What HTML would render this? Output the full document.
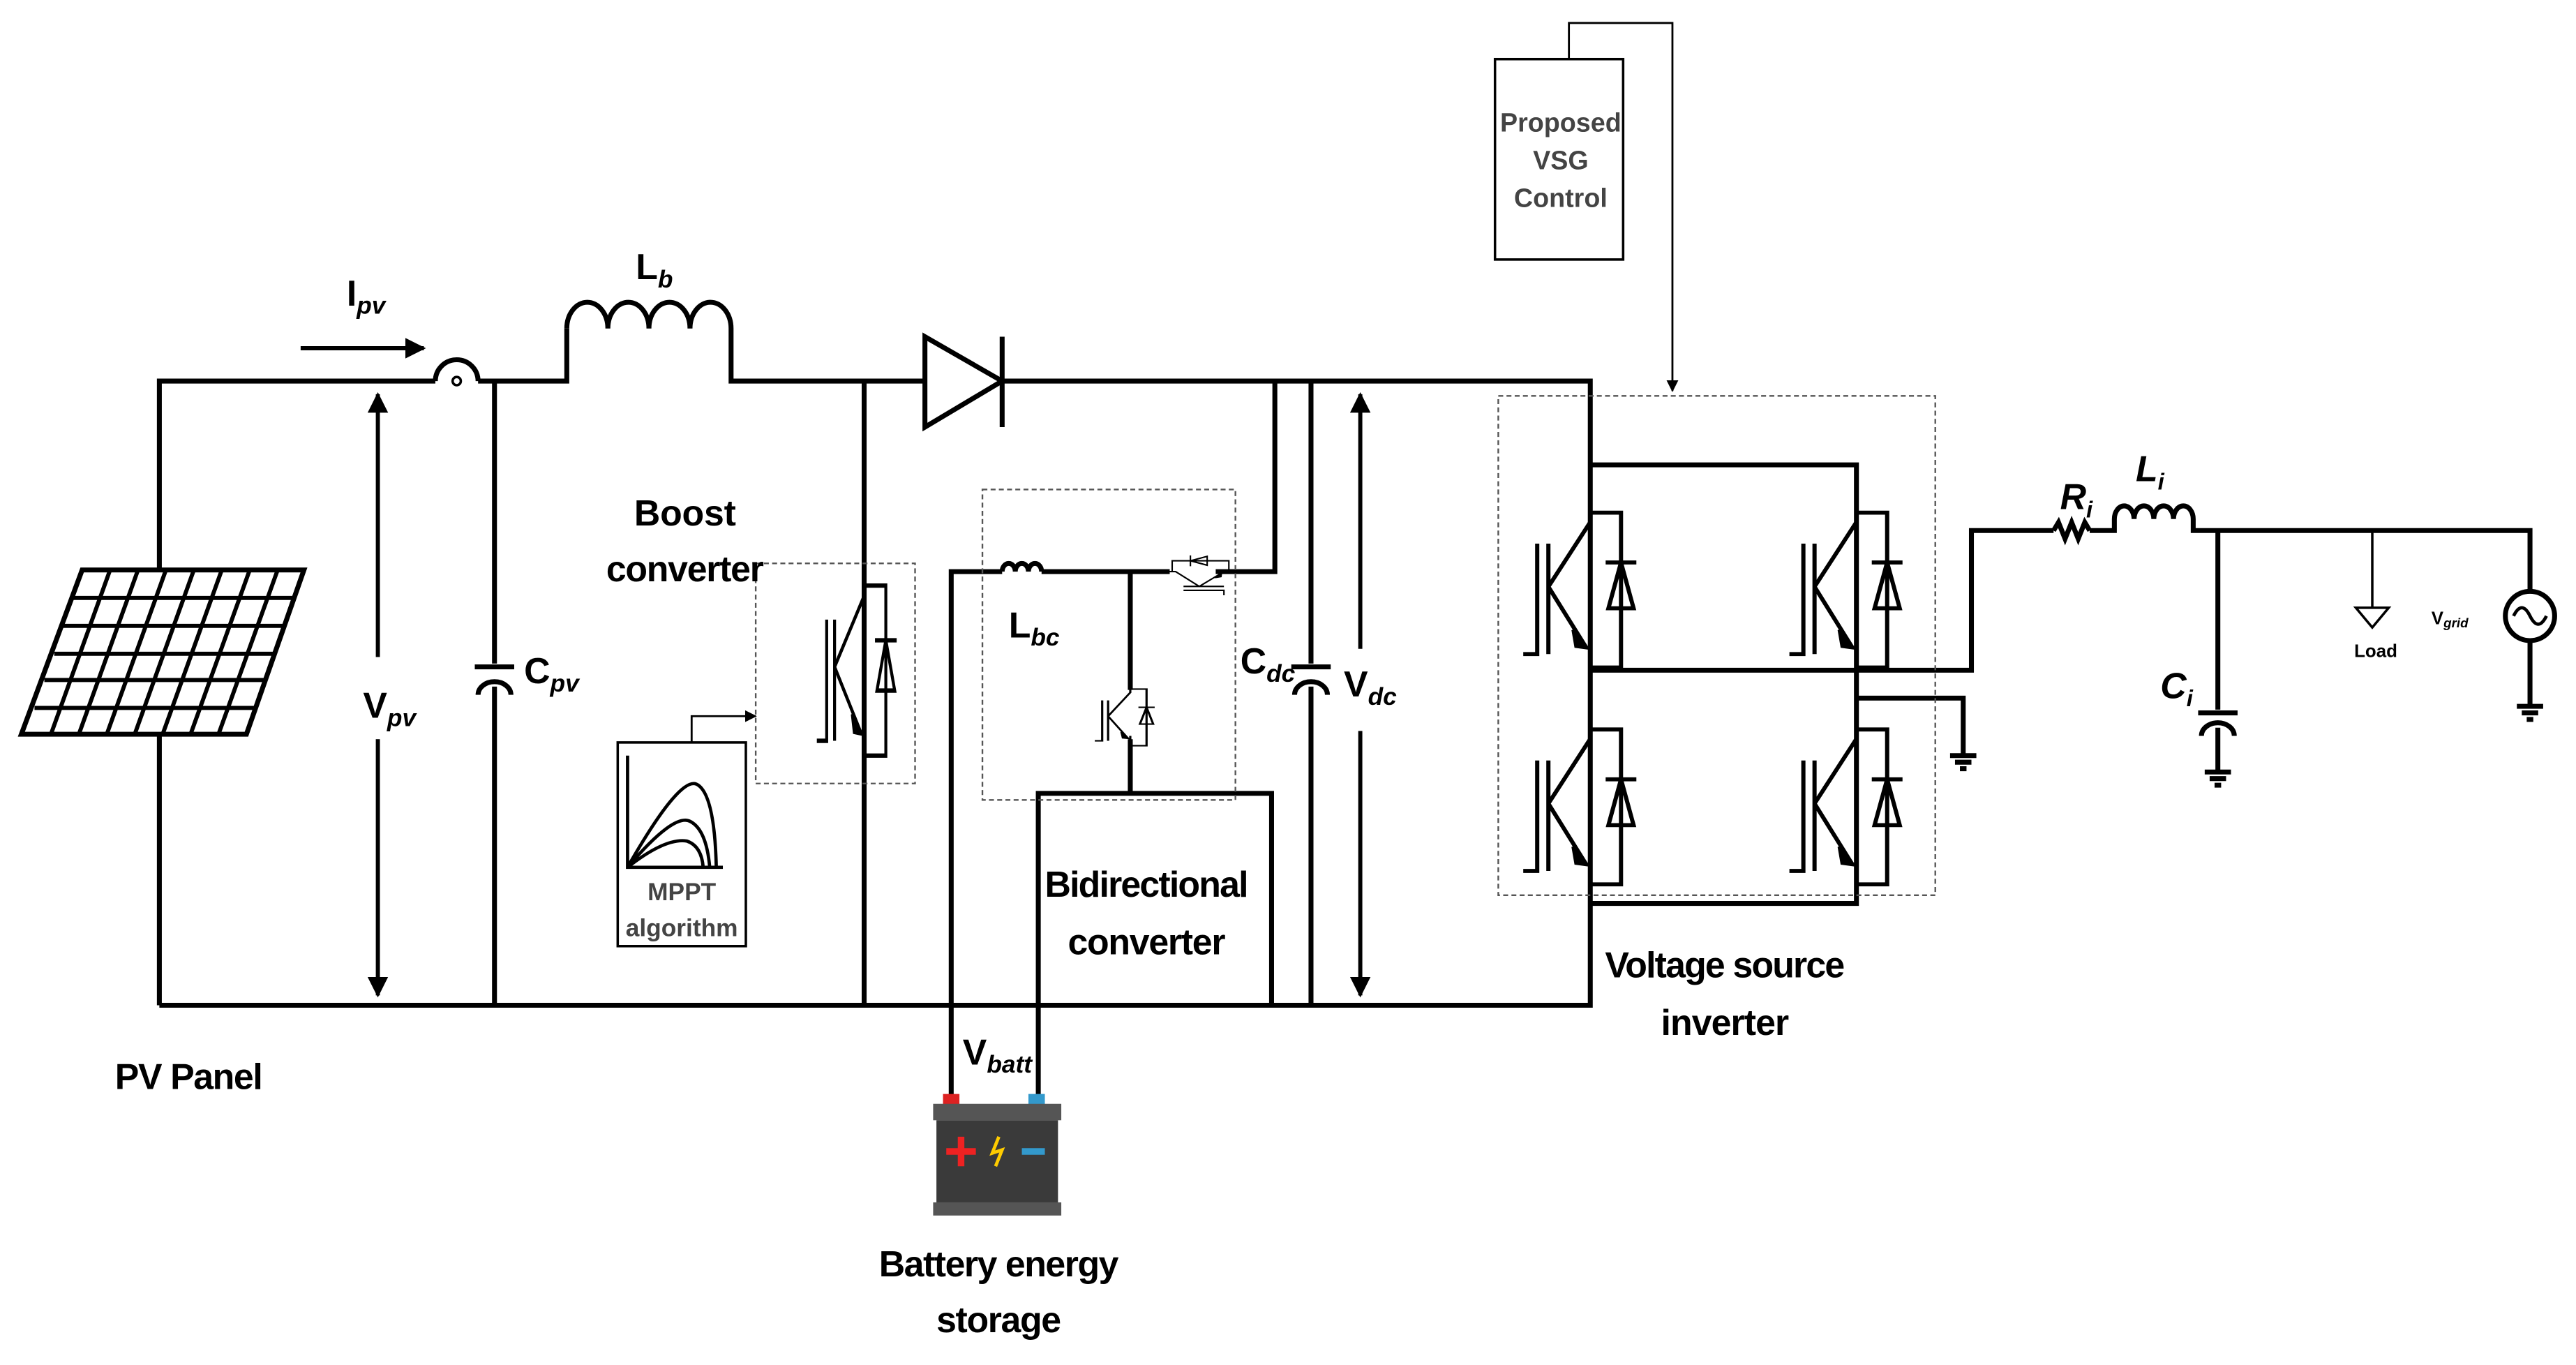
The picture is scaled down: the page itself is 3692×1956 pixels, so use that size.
<!DOCTYPE html>
<html><head><meta charset="utf-8"><style>
html,body{margin:0;padding:0;background:#fff}
svg{display:block}
text{font-family:"Liberation Sans",sans-serif;font-weight:bold}
</style></head><body>
<svg width="3692" height="1956" viewBox="0 0 1568 831" preserveAspectRatio="none" xmlns="http://www.w3.org/2000/svg">
<defs>
<marker id="ah" viewBox="0 0 10 10" refX="9" refY="5" markerWidth="5" markerHeight="5" orient="auto-start-reverse"><path d="M0,0 L10,5 L0,10 z" fill="#000"/></marker>
<marker id="sa" viewBox="0 0 10 10" refX="9" refY="5" markerWidth="6" markerHeight="6" orient="auto"><path d="M0,0 L10,5 L0,10 z" fill="#000"/></marker>
<g id="igbt" fill="none" stroke="#000" stroke-width="3">
<path d="M0,-5 L0,12 L-30,60 M-30,60 L-3,105 M0,100 L0,128"/>
<path d="M-3,105 L-12,92 L-10,104 z" fill="#000"/>
<path d="M-38,28 L-38,110 L-48,110 M-30,28 L-30,110"/>
<path d="M0,5 L22,5 L22,120 L0,120 M22,5 L22,42 M11,42 L33,42 M22,42 L13,76 L31,76 z"/>
</g>
</defs>
<g fill="none" stroke="#000" stroke-width="3">
<path d="M97,612 L97,232 L265,232"/>
<path d="M265,232 A13,13 0 0 1 291,232"/>
<path d="M291,232 L345,232 L345,200"/>
<path d="M345,200 a12.5,16 0 0 1 25,0 a12.5,16 0 0 1 25,0 a12.5,16 0 0 1 25,0 a12.5,16 0 0 1 25,0 L445,232 L563,232"/>
<path d="M563,205 L563,260 L610,232 z M610,205 L610,260"/>
<path d="M610,232 L968,232 L968,612 L97,612"/>
<path d="M301,232 L301,404 M289,406 L313,406 M291,423 A10,8 0 0 1 311,423 M301,418 L301,612"/>
<path d="M526,232 L526,612"/>
<path d="M798,232 L798,404 M786,406 L810,406 M788,423 A10,8 0 0 1 808,423 M798,418 L798,612"/>
<path d="M776,232 L776,348 L740,348"/>
<path d="M579,670 L579,348 L610,348"/>
<path d="M610,348 a4,5 0 0 1 8,0 a4,5 0 0 1 8,0 a4,5 0 0 1 8,0 M634,348 L712,348"/>
<path d="M688,348 L688,420"/>
<path d="M688,450 L688,483"/>
<path d="M632,670 L632,483 L774,483 L774,612"/>
<path d="M968,283 L1130,283 L1130,550 L968,550"/>
<path d="M968,408 L1200,408 L1200,323 L1250,323"/>
<path d="M1250,323 l3,-5 l4,10 l4,-10 l4,10 l4,-10 l3,5"/>
<path d="M1272,323 L1287,323 L1287,316 a6,8 0 0 1 12,0 a6,8 0 0 1 12,0 a6,8 0 0 1 12,0 a6,8 0 0 1 12,0 L1335,323 L1540,323 L1540,360"/>
<path d="M1130,425 L1195,425 L1195,460 M1187,460 L1203,460 M1190,464 L1200,464 M1193,468 L1197,468"/>
<path d="M1350,323 L1350,432 M1338,434 L1362,434 M1340,448 A10,8 0 0 1 1360,448 M1350,443 L1350,470 M1342,470 L1358,470 M1345,474 L1355,474 M1348,478 L1352,478"/>
<path d="M1444,323 L1444,370 M1434,370 L1454,370 L1444,382 z" stroke-width="1.5"/>
<circle cx="1540" cy="375" r="15"/>
<path d="M1530,375 q5,-10 10,0 q5,10 10,0" stroke-width="2"/>
<path d="M1540,390 L1540,430 M1532,430 L1548,430 M1535,434 L1545,434 M1538,438 L1542,438"/>
</g>
<g stroke="#000" stroke-width="2.5" fill="none">
<path d="M230,240 L230,606" marker-start="url(#ah)" marker-end="url(#ah)"/>
<path d="M828,240 L828,606" marker-start="url(#ah)" marker-end="url(#ah)"/>
<path d="M183,212 L258,212" marker-end="url(#ah)"/>
</g>
<rect x="210" y="400" width="40" height="50" fill="#fff"/>
<rect x="812" y="395" width="40" height="50" fill="#fff"/>
<circle cx="278" cy="232" r="2.5" fill="none" stroke="#000" stroke-width="1.5"/>
<use href="#igbt" transform="translate(526,352) scale(0.6,0.9)"/>
<use href="#igbt" transform="translate(688,418) scale(0.45,0.3)"/>
<use href="#igbt" transform="translate(712,348) rotate(-90) scale(0.3,0.3)"/>
<use href="#igbt" transform="translate(968,308) scale(0.85,0.82)"/>
<use href="#igbt" transform="translate(1130,308) scale(0.85,0.82)"/>
<use href="#igbt" transform="translate(968,440) scale(0.85,0.82)"/>
<use href="#igbt" transform="translate(1130,440) scale(0.85,0.82)"/>
<g fill="none" stroke="#555" stroke-width="1" stroke-dasharray="3,2">
<rect x="460" y="343" width="97" height="134"/>
<rect x="598" y="298" width="154" height="189"/>
<rect x="912" y="241" width="266" height="304"/>
</g>
<rect x="910" y="36" width="78" height="122" fill="#fff" stroke="#000" stroke-width="1.5"/>
<path d="M955,36 L955,14 L1018,14 L1018,238" fill="none" stroke="#000" stroke-width="1.2" marker-end="url(#sa)"/>
<text x="950" y="80" font-size="16" text-anchor="middle" fill="#444">Proposed</text>
<text x="950" y="103" font-size="16" text-anchor="middle" fill="#444">VSG</text>
<text x="950" y="126" font-size="16" text-anchor="middle" fill="#444">Control</text>
<rect x="376" y="452" width="78" height="124" fill="#fff" stroke="#000" stroke-width="1.5"/>
<path d="M421,452 L421,436 L460,436" fill="none" stroke="#000" stroke-width="1.2" marker-end="url(#sa)"/>
<g fill="none" stroke="#000" stroke-width="2"><path d="M382,460 L382,528 L440,528"/><path d="M382,528 Q415,470 425,478 Q435,485 436,528 M382,528 Q410,495 420,500 Q430,505 432,528 M382,528 Q405,510 418,512 Q427,515 428,528"/></g>
<text x="415" y="548" font-size="15" text-anchor="middle" fill="#444">MPPT</text>
<text x="415" y="570" font-size="15" text-anchor="middle" fill="#444">algorithm</text>
<g fill="#fff" stroke="#000" stroke-width="3"><path d="M50,347 L185,347 L150,447 L13,447 z"/></g>
<g stroke="#000" stroke-width="2.5" fill="none">
<path d="M44,364 L179,364 M38,381 L173,381 M33,398 L167,398 M27,414 L162,414 M21,431 L156,431"/>
<path d="M67,347 L31,447 M84,347 L48,447 M101,347 L65,447 M118,347 L82,447 M135,347 L99,447 M152,347 L116,447 M169,347 L133,447"/>
</g>
<rect x="574" y="666" width="10" height="8" fill="#d22"/>
<rect x="626" y="666" width="10" height="8" fill="#39c"/>
<rect x="568" y="672" width="78" height="10" fill="#555"/>
<rect x="570" y="682" width="74" height="50" fill="#3a3a3a"/>
<rect x="568" y="732" width="78" height="8" fill="#555"/>
<path d="M585,692 L585,710 M576,701 L594,701" stroke="#e22" stroke-width="4"/>
<path d="M622,701 L636,701" stroke="#39c" stroke-width="4"/>
<path d="M608,692 L604,702 L610,700 L606,710" stroke="#fc0" stroke-width="2" fill="none"/>
<g font-size="22" fill="#000">
<text x="211" y="186">I<tspan font-size="15" font-style="italic" dy="5">pv</tspan></text>
<text x="387" y="170">L<tspan font-size="15" font-style="italic" dy="5">b</tspan></text>
<text x="221" y="437">V<tspan font-size="15" font-style="italic" dy="5">pv</tspan></text>
<text x="319" y="416">C<tspan font-size="15" font-style="italic" dy="5">pv</tspan></text>
<text x="417" y="320" text-anchor="middle" textLength="62">Boost</text>
<text x="417" y="354" text-anchor="middle" textLength="96">converter</text>
<text x="614" y="388">L<tspan font-size="15" font-style="italic" dy="5">bc</tspan></text>
<text x="755" y="410">C<tspan font-size="15" font-style="italic" dy="5">dc</tspan></text>
<text x="818" y="424">V<tspan font-size="15" font-style="italic" dy="5">dc</tspan></text>
<text x="698" y="546" text-anchor="middle" textLength="124">Bidirectional</text>
<text x="698" y="581" text-anchor="middle" textLength="96">converter</text>
<text x="586" y="648">V<tspan font-size="15" font-style="italic" dy="5">batt</tspan></text>
<text x="115" y="663" text-anchor="middle" textLength="90">PV Panel</text>
<text x="608" y="777" text-anchor="middle" textLength="146">Battery energy</text>
<text x="608" y="811" text-anchor="middle" textLength="76">storage</text>
<text x="1050" y="595" text-anchor="middle" textLength="146">Voltage source</text>
<text x="1050" y="630" text-anchor="middle" textLength="78">inverter</text>
<text x="1254" y="310" font-style="italic">R<tspan font-size="14" dy="5">i</tspan></text>
<text x="1300" y="293" font-style="italic">L<tspan font-size="14" dy="5">i</tspan></text>
<text x="1315" y="425" font-style="italic">C<tspan font-size="14" dy="5">i</tspan></text>
</g>
<text x="1433" y="400" font-size="11" font-weight="normal">Load</text>
<text x="1480" y="380" font-size="11" font-weight="normal">V<tspan font-size="8" font-style="italic" dy="2">grid</tspan></text>
</svg>
</body></html>
